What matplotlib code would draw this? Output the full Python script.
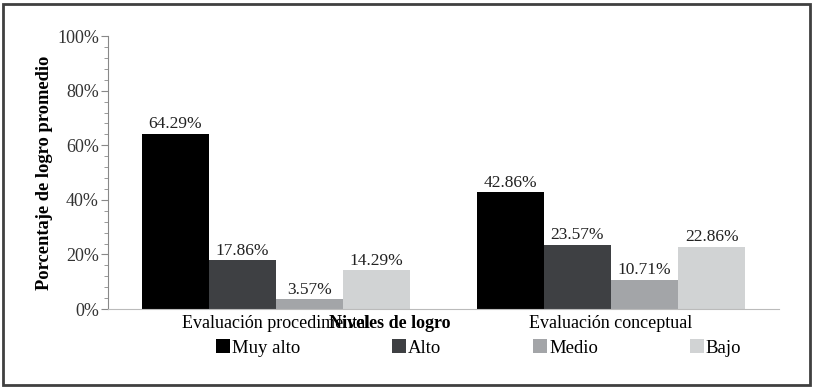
import numpy as np
import matplotlib.pyplot as plt
from matplotlib.patches import Rectangle
from matplotlib.ticker import MultipleLocator, PercentFormatter

categories = ["Evaluación procedimental", "Evaluación conceptual"]
levels = ["Muy alto", "Alto", "Medio", "Bajo"]
muy_alto = [64.29, 42.86]
alto = [17.86, 23.57]
medio = [3.57, 10.71]
bajo = [14.29, 22.86]
colors = ["#000000", "#3e4043", "#a3a5a8", "#d1d3d4"]

plt.rcParams["font.family"] = "serif"
plt.rcParams["font.serif"] = ["Liberation Serif", "DejaVu Serif"]

fig = plt.figure(figsize=(8.13, 3.88), dpi=100)
ax = fig.add_axes([0.1328, 0.2036, 0.825, 0.7034])

# frame round the whole picture
fig.patches.append(Rectangle((0.004, 0.008), 0.992, 0.982, transform=fig.transFigure,
                             fill=False, edgecolor="#404040", linewidth=2))

x = np.arange(len(categories))
w = 0.2
for i, (name, vals) in enumerate(zip(levels, [muy_alto, alto, medio, bajo])):
    bars = ax.bar(x + (i - 1.5) * w, vals, w, color=colors[i], label=name)
    for b, v in zip(bars, vals):
        ax.text(b.get_x() + b.get_width() / 2, v + 0.5, "%.2f%%" % v,
                ha="center", va="bottom", fontsize=12.5, color="#222222")

ax.set_xlim(-0.5, 1.5)
ax.set_ylim(0, 100)
ax.yaxis.set_major_locator(MultipleLocator(20))
ax.yaxis.set_minor_locator(MultipleLocator(4))
ax.yaxis.set_major_formatter(PercentFormatter(decimals=0))
ax.set_xticks(x)
ax.set_xticklabels(categories, fontsize=13)
ax.tick_params(axis="x", length=0, pad=4)
ax.tick_params(axis="y", which="major", length=5, pad=1.5, color="#888888",
               labelsize=13, labelcolor="#333333")
ax.tick_params(axis="y", which="minor", length=3, color="#888888")
for s in ["top", "right"]:
    ax.spines[s].set_visible(False)
ax.spines["left"].set_color("#888888")
ax.spines["bottom"].set_color("#bbbbbb")

ax.set_ylabel("Porcentaje de logro promedio", fontsize=13.3, fontweight="bold", labelpad=3)
fig.text(0.48, 1 - 323 / 388, "Niveles de logro", ha="center", va="center",
         fontsize=13, fontweight="bold", zorder=10)

fig.legend(loc="center left", bbox_to_anchor=(216 / 813, 1 - 348 / 388), ncol=4, frameon=False,
           fontsize=13.5, handlelength=0.75, handleheight=0.75, handletextpad=0.1,
           columnspacing=4.9, borderaxespad=0, borderpad=0)

fig.savefig("out.png", dpi=100)
